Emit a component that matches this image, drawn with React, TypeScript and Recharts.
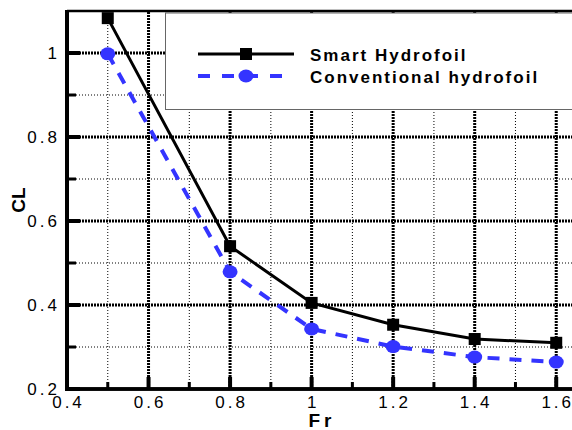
import { LineChart, Line, XAxis, YAxis, ReferenceLine } from "recharts";

// Fr values and the two CL curves
const frValues = [0.5, 0.8, 1.0, 1.2, 1.4, 1.6];
const smartCL = [1.083, 0.54, 0.405, 0.353, 0.319, 0.31];
const conventionalCL = [0.998, 0.479, 0.343, 0.301, 0.276, 0.264];
const seriesNames = ["Smart Hydrofoil", "Conventional hydrofoil"];

const xTicks = [0.4, 0.5, 0.6, 0.7, 0.8, 0.9, 1.0, 1.1, 1.2, 1.3, 1.4, 1.5, 1.6];
const yTicks = [0.2, 0.3, 0.4, 0.5, 0.6, 0.7, 0.8, 0.9, 1.0];
const xMajorLines = [0.6, 0.8, 1.0, 1.2, 1.4, 1.6];
const xMinorLines = [0.5, 0.7, 0.9, 1.1, 1.3, 1.5];
const yMajorLines = [0.4, 0.6, 0.8, 1.0];
const yMinorLines = [0.3, 0.5, 0.7, 0.9];

const data = frValues.map((fr, i) => ({
  fr,
  smart: smartCL[i],
  conventional: conventionalCL[i],
}));

const X_MIN = 0.4;
const X_MAX = 1.7;
const Y_MIN = 0.2;
const Y_MAX = 1.1;

// chart box: plot area sits at left 67, top 11, 530 wide, 378 high
const CHART_W = 600;
const CHART_H = 430;
const MARGIN = { top: 11, right: 3, bottom: 0, left: 0 };
const Y_AXIS_W = 67;
const X_AXIS_H = 41;
const PLOT_L = MARGIN.left + Y_AXIS_W;
const PLOT_T = MARGIN.top;
const PLOT_R = CHART_W - MARGIN.right;
const PLOT_B = CHART_H - MARGIN.bottom - X_AXIS_H;
const px = (v: number) => PLOT_L + ((v - X_MIN) / (X_MAX - X_MIN)) * (PLOT_R - PLOT_L);
const py = (v: number) => PLOT_B - ((v - Y_MIN) / (Y_MAX - Y_MIN)) * (PLOT_B - PLOT_T);

const FONT = "'Liberation Sans', Arial, Helvetica, sans-serif";
const BLUE = "#3434ff";
const isMajor = (v: number) => Math.round(v * 10) % 2 === 0;

const XTick = (props: any) => {
  const { x, y, payload } = props;
  const v = payload.value;
  if (!isMajor(v)) return <g />;
  return (
    <text x={x + 1.5} y={y + 19} textAnchor="middle" fontFamily={FONT} fontSize={17} letterSpacing={3} fill="#000">
      {String(Math.round(v * 10) / 10)}
    </text>
  );
};

const YTick = (props: any) => {
  const { x, y, payload } = props;
  const v = payload.value;
  if (!isMajor(v)) return <g />;
  return (
    <text x={x - 7} y={y + 6} textAnchor="end" fontFamily={FONT} fontSize={17} letterSpacing={3} fill="#000">
      {String(Math.round(v * 10) / 10)}
    </text>
  );
};

const SquareDot = (props: any) => {
  const { cx, cy, index } = props;
  return <rect key={`s-${index}`} x={cx - 6} y={cy - 6} width={12} height={12} fill="#000" />;
};

const RoundDot = (props: any) => {
  const { cx, cy, index } = props;
  return <ellipse key={`c-${index}`} cx={cx} cy={cy} rx={7.5} ry={6.5} fill={BLUE} />;
};

// legend box, axis titles, frame and inward ticks, laid over the chart
function Overlay() {
  return (
    <svg width={572} height={430} style={{ position: "absolute", left: 0, top: 0, display: "block", pointerEvents: "none" }}>
      <text x={25} y={200} transform="rotate(-90 25 200)" textAnchor="middle" fontFamily={FONT} fontWeight="bold" fontSize={19} fill="#000">
        CL
      </text>
      <text x={322} y={427} textAnchor="middle" fontFamily={FONT} fontWeight="bold" fontSize={19} letterSpacing={4} fill="#000">
        Fr
      </text>
      <g transform="translate(165,13)">
        <rect x={0.5} y={0} width={440} height={96.5} fill="#fff" stroke="#666" strokeWidth={1} />
        {seriesNames.map((name, i) => {
          const ly = 41 + i * 22;
          const dashed = i === 1;
          const color = dashed ? BLUE : "#000";
          return (
            <g key={name}>
              <line
                x1={33}
                x2={129}
                y1={ly}
                y2={ly}
                stroke={color}
                strokeWidth={dashed ? 4 : 3}
                strokeDasharray={dashed ? "12 12" : undefined}
              />
              {dashed ? (
                <ellipse cx={81} cy={ly} rx={7.5} ry={6.5} fill={color} />
              ) : (
                <rect x={75} y={ly - 6} width={12} height={12} fill={color} />
              )}
              <text x={145} y={ly + 7} fontFamily={FONT} fontWeight="bold" fontSize={17} letterSpacing={2} fill="#000">
                {name}
              </text>
            </g>
          );
        })}
      </g>
      {xTicks.map((v) => (
        <line
          key={`xt-${v}`}
          x1={px(v)}
          x2={px(v)}
          y1={PLOT_B}
          y2={PLOT_B - (isMajor(v) ? 12 : 7)}
          stroke="#000"
          strokeWidth={isMajor(v) ? 4 : 3}
        />
      ))}
      {yTicks.map((v) => (
        <line
          key={`yt-${v}`}
          x1={PLOT_L}
          x2={PLOT_L + (isMajor(v) ? 13 : 9)}
          y1={py(v)}
          y2={py(v)}
          stroke="#000"
          strokeWidth={isMajor(v) ? 4 : 3}
        />
      ))}
      <line x1={PLOT_L} x2={PLOT_L} y1={PLOT_T - 1} y2={PLOT_B + 2} stroke="#000" strokeWidth={4} />
      <line x1={PLOT_L - 2} x2={572} y1={PLOT_B} y2={PLOT_B} stroke="#000" strokeWidth={3.5} />
      <line x1={PLOT_L} x2={572} y1={PLOT_T} y2={PLOT_T} stroke="#000" strokeWidth={2.5} />
    </svg>
  );
}

export default function App() {
  return (
    <div style={{ position: "fixed", left: 0, top: 0, width: 572, height: 430, overflow: "hidden", background: "#fff" }}>
      <LineChart width={CHART_W} height={CHART_H} data={data} margin={MARGIN}>
        {xMinorLines.map((v) => (
          <ReferenceLine key={`xm-${v}`} x={v} stroke="#000" strokeWidth={1} strokeDasharray="1 2" />
        ))}
        {yMinorLines.map((v) => (
          <ReferenceLine key={`ym-${v}`} y={v} stroke="#000" strokeWidth={1} strokeDasharray="1 2" />
        ))}
        {xMajorLines.map((v) => (
          <ReferenceLine key={`xM-${v}`} x={v} stroke="#000" strokeWidth={3} strokeDasharray="2 1" />
        ))}
        {yMajorLines.map((v) => (
          <ReferenceLine key={`yM-${v}`} y={v} stroke="#000" strokeWidth={3} strokeDasharray="2 1" />
        ))}
        <XAxis
          dataKey="fr"
          type="number"
          domain={[X_MIN, X_MAX]}
          ticks={xTicks}
          allowDataOverflow
          height={X_AXIS_H}
          tickSize={0}
          tickMargin={0}
          tick={XTick}
          axisLine={{ stroke: "#000", strokeWidth: 3.5 }}
        />
        <YAxis
          type="number"
          domain={[Y_MIN, Y_MAX]}
          ticks={yTicks}
          allowDataOverflow
          width={Y_AXIS_W}
          tickSize={0}
          tickMargin={0}
          tick={YTick}
          axisLine={{ stroke: "#000", strokeWidth: 4 }}
        />
        <Line
          dataKey="smart"
          name={seriesNames[0]}
          type="linear"
          stroke="#000"
          strokeWidth={3}
          dot={SquareDot}
          activeDot={false}
          isAnimationActive={false}
        />
        <Line
          dataKey="conventional"
          name={seriesNames[1]}
          type="linear"
          stroke={BLUE}
          strokeWidth={4}
          strokeDasharray="12 10"
          dot={RoundDot}
          activeDot={false}
          isAnimationActive={false}
        />
      </LineChart>
      <Overlay />
    </div>
  );
}
